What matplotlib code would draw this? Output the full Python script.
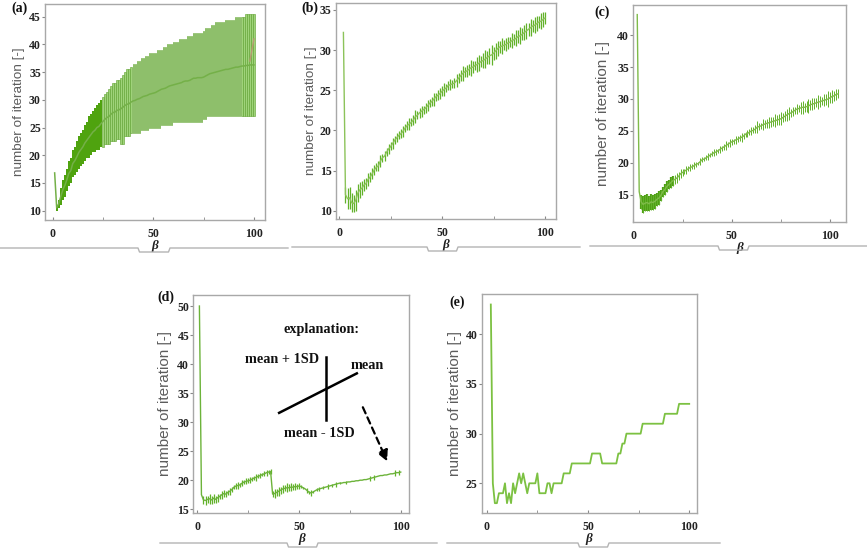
import matplotlib
matplotlib.use("Agg")
import matplotlib.pyplot as plt
from matplotlib.lines import Line2D
import numpy as np

# ---------------- data ----------------
# (a) beta = 1..100 : mean, mean+1SD, mean-1SD
beta_a = list(range(1, 101))
mean_a = [16.8, 10.5, 11.2, 12.5, 13.7, 14.5, 15.5, 16.7, 17.2, 18.5,
          19.0, 19.7, 20.5, 21.0, 21.5, 22.2, 22.7, 23.2, 23.7, 24.2,
          24.5, 25.0, 25.2, 25.7, 26.1, 26.5, 26.8, 27.0, 27.4, 27.7,
          27.8, 28.1, 28.2, 28.4, 28.7, 29.0, 29.2, 29.3, 29.6, 29.8,
          29.9, 30.1, 30.2, 30.4, 30.6, 30.7, 30.8, 31.0, 31.1, 31.2,
          31.3, 31.5, 31.7, 31.9, 32.0, 32.1, 32.3, 32.5, 32.6, 32.7,
          32.8, 32.9, 33.0, 33.1, 33.3, 33.4, 33.4, 33.5, 33.7, 33.9,
          33.9, 34.0, 34.0, 34.0, 34.1, 34.3, 34.5, 34.7, 34.8, 34.9,
          35.0, 35.1, 35.2, 35.3, 35.4, 35.5, 35.5, 35.6, 35.7, 35.8,
          35.9, 35.9, 36.0, 36.1, 36.1, 36.2, 36.2, 36.3, 36.3, 36.3]
upper_a = [16.8, 11.0, 12.0, 14.0, 15.5, 16.5, 17.5, 19.0, 19.5, 21.0,
           21.5, 22.5, 23.5, 24.0, 24.5, 25.5, 26.0, 27.0, 27.5, 28.0,
           28.5, 29.0, 29.5, 30.0, 30.5, 31.0, 31.5, 32.0, 32.5, 33.0,
           33.0, 33.5, 33.5, 34.0, 34.5, 35.0, 35.5, 35.5, 36.0, 36.5,
           36.5, 37.0, 37.0, 37.5, 37.5, 38.0, 38.0, 38.5, 38.5, 38.5,
           38.5, 39.0, 39.0, 39.0, 39.5, 39.5, 40.0, 40.0, 40.0, 40.5,
           40.5, 40.5, 41.0, 41.0, 41.0, 41.0, 41.5, 41.5, 41.5, 42.0,
           42.0, 42.0, 42.0, 42.0, 42.5, 43.0, 43.0, 43.0, 43.5, 43.5,
           44.0, 44.0, 44.0, 44.0, 44.0, 44.5, 44.5, 44.5, 44.5, 44.5,
           45.0, 45.0, 45.0, 45.0, 45.0, 45.5, 45.5, 45.5, 45.5, 45.5]
lower_a = [16.8, 10.0, 10.5, 11.0, 12.0, 12.5, 13.5, 14.5, 15.0, 16.0,
           16.5, 17.0, 17.5, 18.0, 18.5, 19.0, 19.5, 19.5, 20.0, 20.5,
           20.5, 21.0, 21.0, 21.5, 21.5, 22.0, 22.0, 22.0, 22.5, 22.5,
           22.5, 23.0, 23.0, 22.0, 22.0, 23.5, 23.5, 23.5, 24.0, 24.0,
           24.0, 24.0, 24.0, 24.5, 24.5, 24.5, 24.5, 25.0, 25.0, 25.0,
           25.0, 25.0, 25.0, 25.5, 25.5, 25.5, 25.5, 25.5, 25.5, 26.0,
           26.0, 26.0, 26.0, 26.0, 26.0, 26.0, 26.0, 26.0, 26.0, 26.0,
           26.0, 26.0, 26.0, 26.0, 26.5, 26.5, 27.0, 27.0, 27.0, 27.0,
           27.0, 27.0, 27.0, 27.0, 27.0, 27.0, 27.0, 27.0, 27.0, 27.0,
           27.0, 27.0, 27.0, 27.0, 27.0, 27.0, 27.0, 27.0, 27.0, 27.0]
extra_beta_a = [98, 100]
extra_val_a = [37.0, 41.0]

# (b) beta = 2..100
beta_b = list(range(2, 101))
mean_b = [32.2, 12.0, 11.5, 11.6, 11.0, 10.9, 11.3, 12.2, 12.6,
          12.8, 13.2, 13.4, 13.9, 14.2, 14.6, 15.1, 15.4, 15.6, 16.2,
          16.6, 16.8, 17.3, 17.7, 18.0, 18.4, 18.8, 19.1, 19.4, 19.6,
          19.9, 20.3, 20.6, 20.8, 21.0, 21.3, 21.7, 21.9, 22.2, 22.4,
          22.6, 22.8, 23.1, 23.4, 23.6, 23.9, 24.2, 24.4, 24.6, 24.9,
          25.1, 25.3, 25.6, 25.7, 25.8, 25.9, 26.2, 26.5, 26.8, 27.1,
          27.3, 27.4, 27.6, 27.8, 27.9, 28.1, 28.2, 28.4, 28.6, 28.7,
          28.9, 29.1, 29.3, 29.4, 29.6, 29.9, 30.2, 30.4, 30.5, 30.6,
          30.7, 30.9, 31.0, 31.2, 31.3, 31.5, 31.7, 31.8, 32.0, 32.2,
          32.4, 32.6, 32.8, 33.0, 33.1, 33.3, 33.5, 33.6, 33.8, 34.0]
sd_b = [0.0, 1.0, 1.3, 1.4, 1.2, 1.0, 1.3, 1.1, 1.0,
        0.9, 0.8, 0.7, 0.8, 0.6, 0.7, 0.6, 0.5, 0.6, 0.7,
        0.5, 0.6, 0.5, 0.6, 0.5, 0.7, 0.5, 0.6, 0.5, 0.6,
        0.7, 0.5, 0.6, 0.7, 0.5, 0.6, 0.8, 0.5, 0.6, 0.7,
        0.5, 0.6, 0.7, 0.5, 0.6, 0.8, 0.5, 0.6, 0.7, 0.6,
        0.8, 0.5, 0.6, 0.7, 0.5, 0.6, 0.8, 0.6, 0.7, 0.9,
        0.6, 0.8, 0.7, 1.0, 0.8, 0.6, 0.9, 1.0, 0.7, 0.9,
        1.1, 0.8, 1.0, 1.2, 0.8, 1.0, 0.9, 0.7, 1.0, 0.6,
        0.8, 0.7, 0.6, 0.9, 0.7, 1.0, 0.8, 1.1, 0.7, 0.9,
        1.0, 0.8, 1.1, 0.7, 1.0, 0.9, 0.8, 1.0, 0.9, 0.8]

# (c) beta = 2..104
beta_c = list(range(2, 105))
mean_c = [43.2, 15.5, 13.9, 13.5, 13.7, 13.8, 13.6, 13.9, 13.8,
          14.0, 14.3, 14.5, 14.9, 15.5, 15.8, 16.3, 16.6, 16.9, 17.2,
          17.4, 17.6, 17.9, 18.3, 18.5, 18.7, 18.9, 19.1, 19.3, 19.4,
          19.6, 19.8, 19.9, 20.2, 20.5, 20.6, 20.8, 21.0, 21.2, 21.4,
          21.6, 21.7, 21.9, 22.1, 22.3, 22.5, 22.7, 22.9, 23.1, 23.3,
          23.4, 23.6, 23.7, 23.9, 24.0, 24.2, 24.5, 24.6, 24.8, 25.0,
          25.1, 25.3, 25.6, 25.7, 25.8, 26.0, 26.1, 26.2, 26.3, 26.4,
          26.5, 26.6, 26.7, 26.8, 26.9, 27.1, 27.3, 27.5, 27.7, 27.8,
          28.0, 28.2, 28.4, 28.5, 28.6, 28.7, 28.7, 28.8, 28.9, 29.1,
          29.2, 29.3, 29.4, 29.5, 29.6, 29.7, 29.8, 29.9, 30.0, 30.2,
          30.4, 30.5, 30.7, 30.8]
sd_c = [0.0, 0.0, 1.1, 1.3, 1.2, 1.4, 1.2, 1.3, 1.1,
        1.2, 1.0, 1.1, 0.9, 0.8, 0.9, 0.8, 0.7, 0.9, 0.8,
        0.7, 0.8, 0.6, 0.7, 0.5, 0.4, 0.6, 0.4, 0.5, 0.4,
        0.5, 0.4, 0.3, 0.5, 0.4, 0.3, 0.4, 0.5, 0.3, 0.4,
        0.5, 0.4, 0.3, 0.6, 0.4, 0.5, 0.7, 0.4, 0.6, 0.5,
        0.4, 0.6, 0.5, 0.4, 0.7, 0.5, 0.4, 0.6, 0.5, 0.6,
        0.5, 0.7, 0.9, 0.6, 0.5, 0.8, 0.6, 0.7, 0.9, 0.8,
        0.7, 1.0, 0.8, 0.9, 1.0, 0.7, 0.8, 0.9, 1.0, 0.6,
        0.7, 0.6, 0.8, 0.6, 0.9, 1.0, 0.7, 0.9, 1.1, 0.8,
        1.0, 0.9, 0.7, 1.1, 0.8, 0.6, 0.9, 0.8, 1.2, 0.9,
        1.0, 0.8, 0.9, 0.7]

# (d) beta = 1..100
beta_d = list(range(1, 101))
mean_d = [50.0, 17.5, 16.6, 16.5, 16.7, 16.8, 16.6, 16.9, 16.7, 17.0,
          17.2, 17.5, 17.7, 17.6, 17.9, 18.1, 18.4, 18.8, 19.0, 19.1,
          19.2, 19.5, 19.7, 19.8, 19.9, 20.0, 20.2, 20.4, 20.5, 20.7,
          20.8, 21.0, 21.1, 21.3, 21.4, 21.5, 17.6, 17.7, 17.9, 18.1,
          18.3, 18.5, 18.6, 18.7, 18.7, 18.8, 18.8, 18.9, 18.9, 19.0,
          18.9, 18.7, 18.5, 18.2, 17.9, 17.8, 18.0, 18.2, 18.4, 18.5,
          18.6, 18.7, 18.8, 18.9, 19.0, 19.1, 19.2, 19.3, 19.4, 19.5,
          19.5, 19.6, 19.6, 19.7, 19.7, 19.8, 19.8, 19.9, 19.9, 20.0,
          20.0, 20.1, 20.1, 20.2, 20.3, 20.4, 20.5, 20.6, 20.7, 20.8,
          20.8, 20.9, 20.9, 21.0, 21.1, 21.1, 21.2, 21.3, 21.3, 21.4]
sd_d = [0.0, 0.0, 0.7, 0.8, 0.6, 0.9, 0.7, 0.8, 0.6, 0.7,
        0.5, 0.7, 0.6, 0.5, 0.4, 0.6, 0.5, 0.4, 0.5, 0.6,
        0.4, 0.5, 0.3, 0.5, 0.4, 0.5, 0.3, 0.4, 0.6, 0.4,
        0.5, 0.3, 0.4, 0.5, 0.3, 0.4, 0.5, 0.7, 0.6, 0.8,
        0.6, 0.7, 0.5, 0.8, 0.6, 0.7, 0.5, 0.6, 0.4, 0.5,
        0.3, 0.2, 0.0, 0.4, 0.3, 0.5, 0.2, 0.0, 0.3, 0.4,
        0.0, 0.3, 0.0, 0.4, 0.0, 0.3, 0.0, 0.4, 0.0, 0.2,
        0.0, 0.0, 0.3, 0.0, 0.0, 0.0, 0.0, 0.0, 0.0, 0.0,
        0.0, 0.0, 0.0, 0.0, 0.5, 0.0, 0.4, 0.0, 0.0, 0.0,
        0.0, 0.0, 0.0, 0.0, 0.0, 0.0, 0.5, 0.0, 0.4, 0.0]

# (e) beta = 2..100
beta_e = list(range(2, 101))
val_e = [43, 25, 23, 23, 24, 24, 24, 25, 23,
         24, 23, 25, 24, 25, 26, 25, 26, 25, 24,
         25, 25, 25, 25, 26, 24, 24, 24, 24, 25,
         25, 24, 25, 25, 25, 25, 25, 26, 26, 26,
         26, 27, 27, 27, 27, 27, 27, 27, 27, 27,
         27, 28, 28, 28, 28, 28, 27, 27, 27, 27,
         27, 27, 27, 27, 28, 28, 29, 29, 30, 30,
         30, 30, 30, 30, 30, 30, 31, 31, 31, 31,
         31, 31, 31, 31, 31, 31, 31, 32, 32, 32,
         32, 32, 32, 32, 33, 33, 33, 33, 33, 33]

x_ticks = [0, 50, 100]
panel_labels = ["(a)", "(b)", "(c)", "(d)", "(e)"]
y_label = "number of iteration [-]"
x_label = "β"

# ---------------- figure ----------------
W, H = 867, 552
fig = plt.figure(figsize=(W / 100, H / 100), dpi=100)
SERIF = "Liberation Serif"


def rect(l, t, r, b):
    return [l / W, 1 - b / H, (r - l) / W, (b - t) / H]


def style(ax, xlim, ylim, yticks, ylab_x, ylab_size):
    ax.set_xlim(*xlim)
    ax.set_ylim(*ylim)
    ax.set_xticks(x_ticks)
    ax.set_xticks([25, 75], minor=True)
    ax.set_yticks(yticks)
    for s in ax.spines.values():
        s.set_color("#a8a8a8")
        s.set_linewidth(1.0)
    ax.tick_params(axis="x", which="both", direction="in", length=2.5,
                   color="#888888", pad=6, labelsize=8.5)
    ax.tick_params(axis="y", direction="out", length=2, color="#888888",
                   pad=1, labelsize=8.5)
    for lab in ax.get_xticklabels() + ax.get_yticklabels():
        lab.set_fontfamily(SERIF)
        lab.set_fontweight("bold")
        lab.set_color("#222222")
    ax.set_ylabel(y_label, fontsize=ylab_size, color="#5c5c5c",
                  family="Liberation Sans")
    ax.yaxis.set_label_coords(ylab_x, 0.5)
    ax.set_xlabel(x_label, family=SERIF, fontweight="bold", style="italic",
                  fontsize=9.5, labelpad=0, color="#222222")


def deco(x0, x1, n0, n1, y):
    xs = [x0, n0, n0 + 1.5, n1 - 1.5, n1, x1]
    ys = [y, y, y + 4, y + 4, y, y]
    fig.add_artist(Line2D([v / W for v in xs], [1 - v / H for v in ys],
                          transform=fig.transFigure, color="#b4b4b4", lw=1.0))


# ---- (a)
ax = fig.add_axes(rect(45, 4, 265, 220))
ba = np.array(beta_a)
ua = np.array(upper_a)
la = np.array(lower_a)
dense = (ba >= 2) & (ba <= 24)
sparse = ba >= 25
ax.bar(ba[dense], (ua - la)[dense], bottom=la[dense], width=1.0,
       color="#4fa30f", linewidth=0)
ax.bar(ba[sparse], (ua - la)[sparse], bottom=la[sparse], width=0.65,
       color="#9fd37a", edgecolor="#5c9f2c", linewidth=0.4)
ax.plot(beta_a, mean_a, color="#74b048", lw=1.1)
ax.plot(extra_beta_a, extra_val_a, color="#b89a72", lw=1.0)
style(ax, (-3.8, 105.5), (8.3, 47.3), [10, 15, 20, 25, 30, 35, 40, 45], -0.09, 9.7)

# ---- (b)
ax = fig.add_axes(rect(335.7, 3.3, 555.7, 219))
ax.errorbar(beta_b, mean_b, yerr=sd_b, color="#8cc35a", lw=1.0,
            ecolor="#62b22a", elinewidth=0.9, capsize=0)
style(ax, (-1.75, 105.2), (8.97, 35.83), [10, 15, 20, 25, 30, 35], -0.085, 9.7)

# ---- (c)
ax = fig.add_axes(rect(633.3, 5, 845.7, 221.7))
bc = np.array(beta_c)
early = bc <= 20
ax.errorbar(bc[early], np.array(mean_c)[early], yerr=np.array(sd_c)[early],
            fmt="none", ecolor="#4f9e16", elinewidth=1.6, capsize=0)
ax.errorbar(beta_c, mean_c, yerr=sd_c, color="#7fbb4a", lw=1.0,
            ecolor="#62b22a", elinewidth=0.7, capsize=0)
style(ax, (0.8, 107.9), (10.8, 44.7), [15, 20, 25, 30, 35, 40], -0.11, 11)

# ---- (d)
ax = fig.add_axes(rect(193.3, 295, 409.3, 512.7))
ax.errorbar(beta_d, mean_d, yerr=sd_d, color="#6cb33a", lw=1.0,
            ecolor="#62b22a", elinewidth=0.9, capsize=0)
style(ax, (-2, 104.2), (14.4, 51.9), [15, 20, 25, 30, 35, 40, 45, 50], -0.1, 11)
tkw = dict(family=SERIF, fontweight="bold", fontsize=10.3, color="#111111",
           ha="center", va="center")
ax.text(61.2, 45.9, "explanation:", **tkw)
ax.text(41.5, 40.8, "mean + 1SD", **tkw)
ax.text(83.6, 39.8, "mean", **tkw)
ax.text(59.9, 28.1, "mean - 1SD", **tkw)
ax.plot([63.1, 63.1], [41.2, 30.3], color="black", lw=1.8)
ax.plot([40.2, 78.4], [31.6, 38.4], color="black", lw=1.8)
ax.annotate("", xy=(93.9, 22.8), xytext=(80.8, 33.0),
            arrowprops=dict(arrowstyle="-|>", linestyle=(0, (3, 2)), lw=1.6,
                            color="black", mutation_scale=16))

# ---- (e)
ax = fig.add_axes(rect(481.7, 294, 696.7, 512.7))
ax.plot(beta_e, val_e, color="#7cc142", lw=1.3)
style(ax, (-2.5, 103.7), (22.04, 44.06), [25, 30, 35, 40], -0.092, 11)

# panel labels
plab_pos = [(11, 2), (301, 2), (594, 6), (157, 291), (449, 296)]
for (px, py), lab in zip(plab_pos, panel_labels):
    fig.text(px / W, 1 - py / H, lab, family=SERIF, fontweight="bold",
             fontsize=10, va="top", ha="left", color="#111111")

# decorative separator lines
deco(0, 288, 138, 170, 248)
deco(292, 580, 427, 458, 247)
deco(590, 867, 718, 749, 246)
deco(160, 437, 287, 318, 543)
deco(447, 720, 578, 609, 543)

fig.savefig("out.png", dpi=100)
